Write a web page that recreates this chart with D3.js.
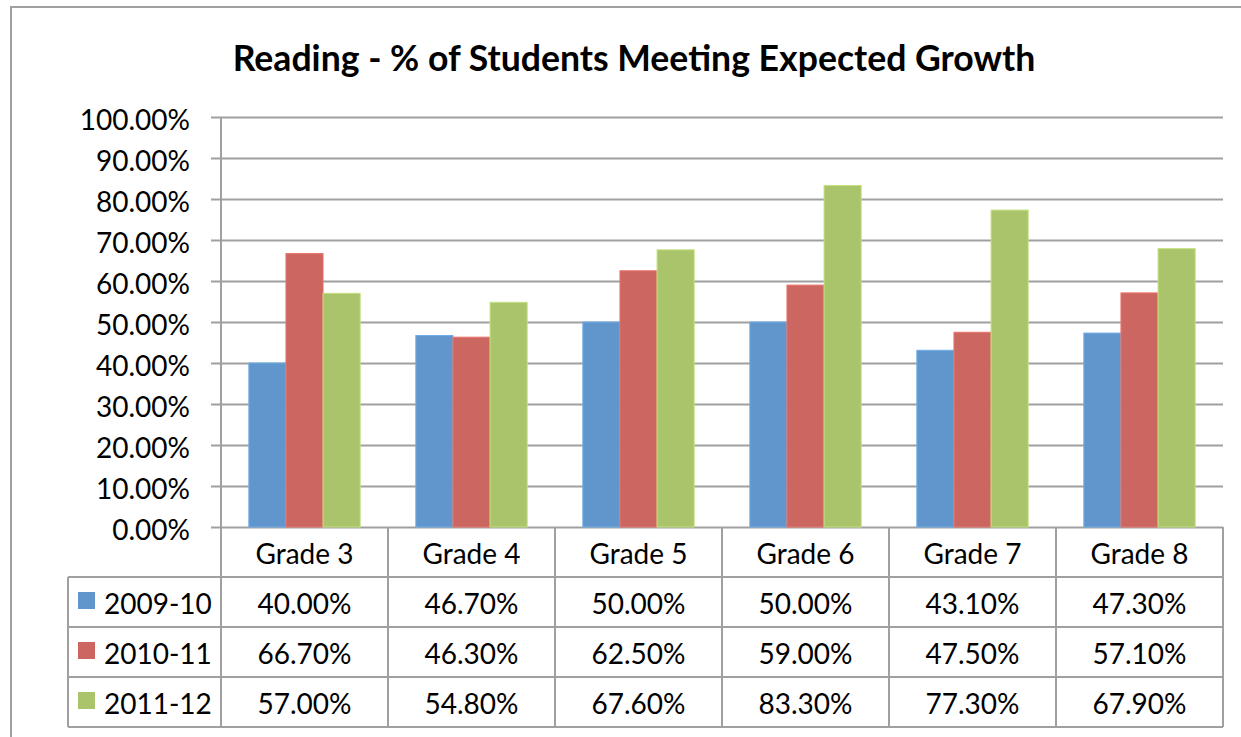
<!DOCTYPE html>
<html>
<head>
<meta charset="utf-8">
<script src="https://cdn.jsdelivr.net/npm/d3@7"></script>
<style>
  html, body { margin: 0; padding: 0; background: #fff; }
  svg { display: block; font-family: Lato, "Open Sans", sans-serif; }
</style>
</head>
<body>
<svg width="1241" height="737"></svg>
<script>
// chart data
var grades = ['Grade 3', 'Grade 4', 'Grade 5', 'Grade 6', 'Grade 7', 'Grade 8'];
var years = ['2009-10', '2010-11', '2011-12'];
var y2009 = [40.0, 46.7, 50.0, 50.0, 43.1, 47.3];
var y2010 = [66.7, 46.3, 62.5, 59.0, 47.5, 57.1];
var y2011 = [57.0, 54.8, 67.6, 83.3, 77.3, 67.9];
var yTicks = [0, 10, 20, 30, 40, 50, 60, 70, 80, 90, 100];
var colors = ['#6096cb', '#cc6660', '#aac46c'];
var title = 'Reading - % of Students Meeting Expected Growth';

(function() {
  var series = [y2009, y2010, y2011];
  var svg = d3.select('svg');
  var gridColor = '#a0a0a0';
  var fs = 28;
  var fmt = function(v) { return v.toFixed(2) + '%'; };

  var plotLeft = 221, plotRight = 1223, plotTop = 117, plotBottom = 527;
  var rowH = 50;

  // outer chart frame
  svg.append('rect')
    .attr('x', 11).attr('y', 7)
    .attr('width', 1300).attr('height', 800)
    .attr('fill', 'none')
    .attr('stroke', gridColor)
    .attr('stroke-width', 2);

  // title, fitted to the width it has in the reference
  var t = svg.append('text')
    .attr('x', 634).attr('y', 71)
    .attr('text-anchor', 'middle')
    .attr('font-weight', 'bold')
    .attr('font-size', 100)
    .text(title);
  var tw = t.node().getComputedTextLength();
  t.attr('font-size', 100 * 803 / tw);

  var x = d3.scaleBand().domain(grades).range([plotLeft, plotRight]);
  var xi = d3.scaleBand().domain(d3.range(years.length))
    .range([x.bandwidth() / 6, x.bandwidth() * 5 / 6]);
  var y = d3.scaleLinear().domain([0, 100]).range([plotBottom, plotTop]);

  // gridlines
  var gy = svg.append('g')
    .attr('transform', 'translate(' + plotRight + ',0)')
    .call(d3.axisLeft(y).tickValues(yTicks).tickSize(plotRight - 211).tickFormat(''));
  gy.select('.domain').remove();
  gy.selectAll('line').attr('stroke', gridColor).attr('stroke-width', 2);

  // y labels
  svg.append('g').selectAll('text')
    .data(yTicks)
    .enter().append('text')
    .attr('x', 190)
    .attr('y', d => y(d) + 13)
    .attr('text-anchor', 'end')
    .attr('font-size', fs)
    .text(fmt);

  // bars
  svg.append('g').selectAll('g')
    .data(series)
    .enter().append('g')
    .attr('fill', (d, i) => colors[i])
    .each(function(vals, si) {
      d3.select(this).selectAll('rect')
        .data(vals)
        .enter().append('rect')
        .attr('x', (d, gi) => x(grades[gi]) + xi(si))
        .attr('y', d => y(d))
        .attr('width', xi.bandwidth())
        .attr('height', d => y(0) - y(d))
        .attr('stroke', d3.color(colors[si]).brighter(0.4))
        .attr('stroke-width', 1);
    });

  // y axis line, continues as the table's left edge
  svg.append('line')
    .attr('x1', plotLeft).attr('x2', plotLeft)
    .attr('y1', plotTop).attr('y2', plotBottom + rowH * 4)
    .attr('stroke', gridColor).attr('stroke-width', 2);

  // data table
  var tbl = svg.append('g').attr('stroke', gridColor).attr('stroke-width', 2);
  grades.forEach(function(g) {
    tbl.append('line')
      .attr('x1', x(g) + x.bandwidth()).attr('x2', x(g) + x.bandwidth())
      .attr('y1', plotBottom).attr('y2', plotBottom + rowH * 4);
  });
  d3.range(1, 5).forEach(function(r) {
    tbl.append('line')
      .attr('x1', 68).attr('x2', plotRight)
      .attr('y1', plotBottom + rowH * r).attr('y2', plotBottom + rowH * r);
  });
  tbl.append('line')
    .attr('x1', 68).attr('x2', 68)
    .attr('y1', plotBottom + rowH).attr('y2', plotBottom + rowH * 4);

  svg.append('g').selectAll('text')
    .data(grades)
    .enter().append('text')
    .attr('x', d => x(d) + x.bandwidth() / 2)
    .attr('y', plotBottom + 37)
    .attr('text-anchor', 'middle')
    .attr('font-size', fs)
    .text(d => d);

  series.forEach(function(vals, si) {
    var rowY = plotBottom + rowH * (si + 1);
    var row = svg.append('g');
    row.selectAll('text')
      .data(vals)
      .enter().append('text')
      .attr('x', (d, gi) => x(grades[gi]) + x.bandwidth() / 2)
      .attr('y', rowY + 37)
      .attr('text-anchor', 'middle')
      .attr('font-size', fs)
      .text(fmt);
    row.append('rect')
      .attr('x', 78).attr('y', rowY + 15)
      .attr('width', 17).attr('height', 17)
      .attr('fill', colors[si]);
    row.append('text')
      .attr('x', 104).attr('y', rowY + 37)
      .attr('font-size', fs)
      .text(years[si]);
  });
})();
</script>
</body>
</html>
